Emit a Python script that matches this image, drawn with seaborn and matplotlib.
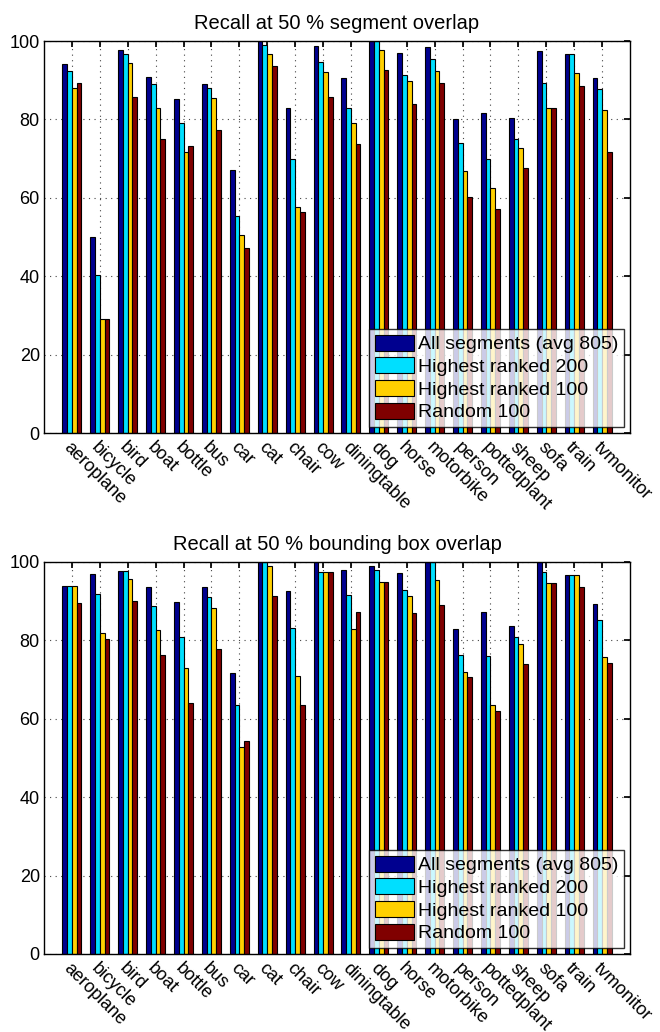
import matplotlib
matplotlib.use("Agg")
import matplotlib.pyplot as plt
import pandas as pd
import seaborn as sns

CLASSES = ["aeroplane", "bicycle", "bird", "boat", "bottle", "bus", "car", "cat",
           "chair", "cow", "diningtable", "dog", "horse", "motorbike", "person",
           "pottedplant", "sheep", "sofa", "train", "tvmonitor"]
SERIES = ["All segments (avg 805)", "Highest ranked 200", "Highest ranked 100", "Random 100"]
COLORS = ["#00008F", "#00DFFF", "#FFD000", "#800000"]

# recall at 50 % segment overlap
seg_all = [94.1, 49.9, 97.8, 90.7, 85.3, 89.1, 67.0, 100.0, 83.0, 98.6,
           90.6, 100.0, 97.0, 98.5, 80.0, 81.7, 80.3, 97.4, 96.8, 90.5]
seg_200 = [92.4, 40.2, 96.6, 89.1, 79.1, 87.9, 55.4, 98.9, 70.0, 94.7,
           82.9, 100.0, 91.3, 95.3, 74.0, 69.8, 75.1, 89.4, 96.8, 87.8]
seg_100 = [87.9, 29.0, 94.5, 82.8, 71.8, 85.5, 50.6, 96.8, 57.7, 92.1,
           79.2, 97.8, 89.8, 92.3, 66.8, 62.6, 72.6, 82.8, 91.8, 82.3]
seg_rnd = [89.4, 29.0, 85.6, 75.0, 73.1, 77.2, 47.2, 93.5, 56.5, 85.6,
           73.6, 92.7, 84.0, 89.3, 60.1, 57.1, 67.5, 82.8, 88.5, 71.6]

# recall at 50 % bounding box overlap
box_all = [94.0, 96.9, 97.8, 93.7, 89.8, 93.5, 71.6, 100.0, 92.6, 100.0,
           97.9, 99.0, 97.2, 100.0, 82.9, 87.3, 83.8, 100.0, 96.8, 89.2]
box_200 = [94.0, 91.8, 97.8, 88.9, 80.8, 91.0, 63.4, 100.0, 83.1, 97.4,
           91.5, 97.9, 92.8, 100.0, 76.4, 76.1, 80.9, 97.4, 96.8, 85.2]
box_100 = [94.0, 82.0, 95.6, 82.6, 73.0, 88.3, 52.8, 99.0, 70.9, 97.4,
           83.0, 94.8, 91.3, 95.3, 71.9, 63.4, 79.2, 94.6, 96.8, 75.7]
box_rnd = [89.6, 80.3, 90.0, 76.2, 64.0, 77.9, 54.4, 91.3, 63.4, 97.4,
           87.2, 94.8, 87.0, 89.0, 70.6, 61.9, 73.9, 94.6, 93.5, 74.3]

PANELS = [
    ("Recall at 50 % segment overlap", [seg_all, seg_200, seg_100, seg_rnd]),
    ("Recall at 50 % bounding box overlap", [box_all, box_200, box_100, box_rnd]),
]


def to_long(series_vals):
    rows = []
    for name, vals in zip(SERIES, series_vals):
        for c, v in zip(CLASSES, vals):
            rows.append({"class": c, "series": name, "recall": v})
    return pd.DataFrame(rows)


sns.set_theme(style="white")
plt.rcParams["font.family"] = ["Liberation Sans", "DejaVu Sans"]
plt.rcParams.update({"text.color": "black", "axes.labelcolor": "black",
                     "xtick.color": "black", "ytick.color": "black"})

fig = plt.figure(figsize=(6.6, 10.32), dpi=100)
W, H = 660, 1032
boxes = [(44, 41, 630, 433), (44, 562, 630, 954)]

for (title, vals), (x0, y0, x1, y1) in zip(PANELS, boxes):
    ax = fig.add_axes([x0 / W, 1 - y1 / H, (x1 - x0) / W, (y1 - y0) / H])
    df = to_long(vals)
    sns.barplot(data=df, x="class", y="recall", hue="series", order=CLASSES,
                hue_order=SERIES, palette=COLORS, width=0.68, gap=0,
                edgecolor="black", linewidth=0.8, saturation=1, ax=ax)
    ax.set_xlim(-1, 20)
    ax.set_ylim(0, 100)
    ax.set_yticks(range(0, 101, 20))
    ax.set_xticks(range(len(CLASSES)))
    ax.set_xticklabels(CLASSES, rotation=-45, ha="left", rotation_mode="anchor",
                       fontsize=13)
    ax.tick_params(axis="y", labelsize=13, pad=3)
    ax.tick_params(axis="x", pad=4)
    ax.tick_params(direction="in", length=4, top=True, right=True, color="black",
                   labelcolor="black")
    ax.set_xlabel("")
    ax.set_ylabel("")
    ax.grid(True, linestyle=(0, (1, 4)), color="#444444", linewidth=0.8)
    ax.set_axisbelow(True)
    for s in ax.spines.values():
        s.set_color("black")
        s.set_linewidth(1.0)
    ax.set_title(title, fontsize=14.5, pad=9, color="black")
    leg = ax.legend(loc="lower right", fontsize=14, frameon=True, fancybox=False,
                    edgecolor="black", borderpad=0.3, labelspacing=0.2,
                    handlelength=2.0, handleheight=0.9, handletextpad=0.2,
                    borderaxespad=0.3)
    leg.get_frame().set_linewidth(1.0)
    for t in leg.get_texts():
        t.set_color("black")

fig.savefig("out.png", dpi=100)
